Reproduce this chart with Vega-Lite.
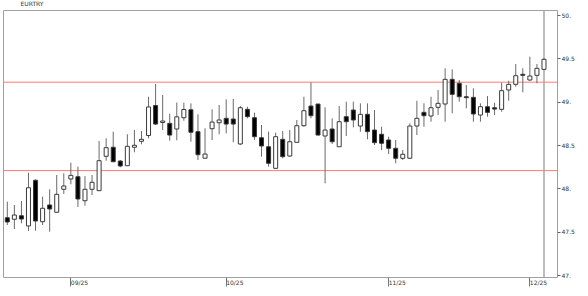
{
  "$schema": "https://vega.github.io/schema/vega-lite/v6.json",
  "width": 554,
  "height": 267,
  "autosize": {"type": "none"},
  "padding": {"left": 3, "top": 10, "right": 31, "bottom": 19},
  "background": "#ffffff",
  "title": {"text": "EURTRY", "anchor": "start", "fontSize": 6, "font": "DejaVu Sans", "fontWeight": "normal", "color": "#333333", "offset": 2, "dx": 18},
  "config": {"view": {"stroke": "#a0a0a0", "strokeWidth": 1}, "font": "DejaVu Sans"},
  "data": {"values": [
    {"d": "2025-08-19", "o": 47.661, "h": 47.846, "l": 47.577, "c": 47.612},
    {"d": "2025-08-20", "o": 47.643, "h": 47.808, "l": 47.531, "c": 47.692},
    {"d": "2025-08-21", "o": 47.684, "h": 47.854, "l": 47.597, "c": 47.646},
    {"d": "2025-08-22", "o": 47.566, "h": 48.180, "l": 47.508, "c": 48.007},
    {"d": "2025-08-25", "o": 48.093, "h": 48.104, "l": 47.511, "c": 47.623},
    {"d": "2025-08-26", "o": 47.615, "h": 47.904, "l": 47.577, "c": 47.770},
    {"d": "2025-08-27", "o": 47.808, "h": 47.989, "l": 47.500, "c": 47.762},
    {"d": "2025-08-28", "o": 47.724, "h": 48.154, "l": 47.720, "c": 47.931},
    {"d": "2025-08-29", "o": 47.989, "h": 48.174, "l": 47.935, "c": 48.027},
    {"d": "2025-09-01", "o": 48.108, "h": 48.296, "l": 48.047, "c": 48.150},
    {"d": "2025-09-02", "o": 48.134, "h": 48.250, "l": 47.785, "c": 47.877},
    {"d": "2025-09-03", "o": 47.857, "h": 48.142, "l": 47.800, "c": 47.989},
    {"d": "2025-09-04", "o": 47.989, "h": 48.154, "l": 47.923, "c": 48.070},
    {"d": "2025-09-05", "o": 47.973, "h": 48.546, "l": 47.970, "c": 48.319},
    {"d": "2025-09-08", "o": 48.370, "h": 48.577, "l": 48.319, "c": 48.469},
    {"d": "2025-09-09", "o": 48.474, "h": 48.654, "l": 48.305, "c": 48.307},
    {"d": "2025-09-10", "o": 48.315, "h": 48.327, "l": 48.243, "c": 48.258},
    {"d": "2025-09-11", "o": 48.261, "h": 48.624, "l": 48.260, "c": 48.485},
    {"d": "2025-09-12", "o": 48.474, "h": 48.673, "l": 48.416, "c": 48.497},
    {"d": "2025-09-15", "o": 48.543, "h": 48.662, "l": 48.508, "c": 48.566},
    {"d": "2025-09-16", "o": 48.610, "h": 49.057, "l": 48.577, "c": 48.939},
    {"d": "2025-09-17", "o": 48.956, "h": 49.204, "l": 48.731, "c": 48.742},
    {"d": "2025-09-18", "o": 48.760, "h": 49.077, "l": 48.673, "c": 48.777},
    {"d": "2025-09-19", "o": 48.750, "h": 48.861, "l": 48.550, "c": 48.615},
    {"d": "2025-09-22", "o": 48.685, "h": 48.990, "l": 48.554, "c": 48.825},
    {"d": "2025-09-23", "o": 48.815, "h": 48.988, "l": 48.780, "c": 48.910},
    {"d": "2025-09-24", "o": 48.907, "h": 48.981, "l": 48.538, "c": 48.647},
    {"d": "2025-09-25", "o": 48.654, "h": 48.854, "l": 48.327, "c": 48.388},
    {"d": "2025-09-26", "o": 48.348, "h": 48.693, "l": 48.345, "c": 48.396},
    {"d": "2025-09-29", "o": 48.688, "h": 48.912, "l": 48.558, "c": 48.765},
    {"d": "2025-09-30", "o": 48.757, "h": 48.962, "l": 48.624, "c": 48.789},
    {"d": "2025-10-01", "o": 48.808, "h": 49.027, "l": 48.635, "c": 48.742},
    {"d": "2025-10-02", "o": 48.800, "h": 49.031, "l": 48.531, "c": 48.742},
    {"d": "2025-10-03", "o": 48.512, "h": 48.950, "l": 48.500, "c": 48.930},
    {"d": "2025-10-06", "o": 48.912, "h": 48.942, "l": 48.808, "c": 48.827},
    {"d": "2025-10-07", "o": 48.815, "h": 48.873, "l": 48.558, "c": 48.596},
    {"d": "2025-10-08", "o": 48.584, "h": 48.731, "l": 48.365, "c": 48.489},
    {"d": "2025-10-09", "o": 48.480, "h": 48.654, "l": 48.250, "c": 48.289},
    {"d": "2025-10-10", "o": 48.231, "h": 48.642, "l": 48.223, "c": 48.596},
    {"d": "2025-10-13", "o": 48.566, "h": 48.662, "l": 48.347, "c": 48.365},
    {"d": "2025-10-14", "o": 48.373, "h": 48.673, "l": 48.365, "c": 48.538},
    {"d": "2025-10-15", "o": 48.531, "h": 48.789, "l": 48.530, "c": 48.723},
    {"d": "2025-10-16", "o": 48.723, "h": 49.057, "l": 48.711, "c": 48.896},
    {"d": "2025-10-17", "o": 48.950, "h": 49.223, "l": 48.808, "c": 48.838},
    {"d": "2025-10-20", "o": 48.973, "h": 48.975, "l": 48.613, "c": 48.615},
    {"d": "2025-10-21", "o": 48.604, "h": 48.935, "l": 48.058, "c": 48.673},
    {"d": "2025-10-22", "o": 48.685, "h": 48.808, "l": 48.512, "c": 48.538},
    {"d": "2025-10-23", "o": 48.480, "h": 48.950, "l": 48.478, "c": 48.769},
    {"d": "2025-10-24", "o": 48.827, "h": 49.000, "l": 48.604, "c": 48.769},
    {"d": "2025-10-27", "o": 48.904, "h": 49.000, "l": 48.704, "c": 48.789},
    {"d": "2025-10-28", "o": 48.719, "h": 48.981, "l": 48.654, "c": 48.854},
    {"d": "2025-10-29", "o": 48.854, "h": 48.981, "l": 48.566, "c": 48.654},
    {"d": "2025-10-30", "o": 48.673, "h": 48.904, "l": 48.500, "c": 48.527},
    {"d": "2025-10-31", "o": 48.624, "h": 48.711, "l": 48.442, "c": 48.520},
    {"d": "2025-11-03", "o": 48.558, "h": 48.596, "l": 48.396, "c": 48.462},
    {"d": "2025-11-04", "o": 48.462, "h": 48.558, "l": 48.289, "c": 48.347},
    {"d": "2025-11-05", "o": 48.347, "h": 48.442, "l": 48.327, "c": 48.393},
    {"d": "2025-11-06", "o": 48.347, "h": 48.750, "l": 48.345, "c": 48.719},
    {"d": "2025-11-07", "o": 48.719, "h": 49.011, "l": 48.615, "c": 48.808},
    {"d": "2025-11-10", "o": 48.877, "h": 48.981, "l": 48.711, "c": 48.838},
    {"d": "2025-11-11", "o": 48.835, "h": 49.057, "l": 48.769, "c": 48.930},
    {"d": "2025-11-12", "o": 48.935, "h": 49.135, "l": 48.846, "c": 48.981},
    {"d": "2025-11-13", "o": 48.973, "h": 49.385, "l": 48.769, "c": 49.258},
    {"d": "2025-11-14", "o": 49.258, "h": 49.373, "l": 48.866, "c": 49.085},
    {"d": "2025-11-17", "o": 49.212, "h": 49.250, "l": 49.000, "c": 49.057},
    {"d": "2025-11-18", "o": 49.057, "h": 49.192, "l": 48.923, "c": 49.046},
    {"d": "2025-11-19", "o": 49.050, "h": 49.154, "l": 48.769, "c": 48.858},
    {"d": "2025-11-20", "o": 48.846, "h": 48.981, "l": 48.769, "c": 48.942},
    {"d": "2025-11-21", "o": 48.942, "h": 49.065, "l": 48.827, "c": 48.877},
    {"d": "2025-11-24", "o": 48.930, "h": 48.988, "l": 48.846, "c": 48.915},
    {"d": "2025-11-25", "o": 48.912, "h": 49.219, "l": 48.884, "c": 49.127},
    {"d": "2025-11-26", "o": 49.135, "h": 49.242, "l": 49.011, "c": 49.200},
    {"d": "2025-11-27", "o": 49.200, "h": 49.435, "l": 49.173, "c": 49.300},
    {"d": "2025-11-28", "o": 49.316, "h": 49.385, "l": 49.108, "c": 49.304},
    {"d": "2025-12-01", "o": 49.250, "h": 49.519, "l": 49.242, "c": 49.296},
    {"d": "2025-12-02", "o": 49.304, "h": 49.435, "l": 49.212, "c": 49.385},
    {"d": "2025-12-03", "o": 49.373, "h": 49.500, "l": 49.365, "c": 49.489}
  ]},
  "layer": [
    {
      "data": {"values": [{"d": "2025-12-03"}]},
      "mark": {"type": "rule", "color": "#a8a8a8", "strokeWidth": 1.5},
      "encoding": {"x": {"field": "d", "type": "ordinal"}}
    },
    {
      "data": {"values": [{"level": 49.225}, {"level": 48.205}]},
      "mark": {"type": "rule", "color": "#ff7a7a", "strokeWidth": 1},
      "encoding": {"y": {"field": "level", "type": "quantitative"}}
    },
    {
      "mark": {"type": "rule", "color": "#6a6a6a", "strokeWidth": 1},
      "encoding": {
        "x": {
          "field": "d", "type": "ordinal",
          "scale": {"paddingInner": 0, "paddingOuter": 0.725, "align": 0.075},
          "axis": {
            "values": ["2025-09-01", "2025-10-01", "2025-11-03", "2025-12-01"],
            "labelExpr": "substring(datum.value,5,7) + '/' + substring(datum.value,2,4)",
            "title": null, "labelAngle": 0, "labelAlign": "left", "labelBaseline": "top",
            "labelFontSize": 6, "labelColor": "#333333", "labelFont": "DejaVu Sans",
            "tickSize": 9, "tickColor": "#777777", "tickWidth": 1,
            "labelPadding": -7, "labelDx": 2, "domain": false, "grid": false
          }
        },
        "y": {
          "field": "l", "type": "quantitative",
          "scale": {"domain": [46.977, 50.058], "nice": false, "zero": false},
          "axis": {
            "orient": "right", "title": null, "grid": false, "domain": false,
            "values": [47, 47.25, 47.5, 47.75, 48, 48.25, 48.5, 48.75, 49, 49.25, 49.5, 49.75, 50],
            "labelExpr": "datum.value % 0.5 == 0 ? (datum.value % 1 == 0 ? datum.value + '.' : '' + datum.value) : ''",
            "labelFontSize": 6, "labelColor": "#333333", "labelFont": "DejaVu Sans",
            "tickSize": 3, "tickColor": "#666666", "labelPadding": 1
          }
        },
        "y2": {"field": "h"}
      }
    },
    {
      "mark": {"type": "bar", "size": 4, "stroke": "#3a3a3a", "strokeWidth": 1},
      "encoding": {
        "x": {"field": "d", "type": "ordinal"},
        "y": {"field": "o", "type": "quantitative"},
        "y2": {"field": "c"},
        "fill": {"condition": {"test": "datum.o > datum.c", "value": "#000000"}, "value": "#ffffff"}
      }
    }
  ]
}
